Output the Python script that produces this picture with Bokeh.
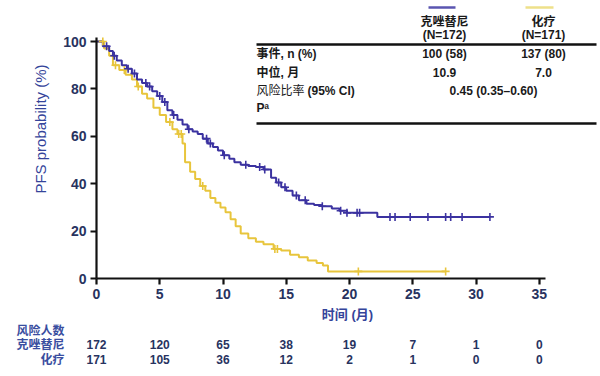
from bokeh.plotting import figure
from bokeh.layouts import column, row
from bokeh.models import Range1d, FixedTicker
from bokeh.core.properties import value
from bokeh.embed import file_html
from bokeh.resources import INLINE
import numpy as np

# ---------------- data ----------------
# Crizotinib (克唑替尼) KM step curve
criz_t = [0, 0.5, 1.0, 1.3, 1.6, 2.0, 2.4, 2.8, 3.2, 3.6, 4.0, 4.4, 4.8, 5.2, 5.6, 6.0,
          6.4, 6.8, 7.2, 7.6, 8.0, 8.4, 8.8, 9.2, 9.6, 10.0, 10.5, 10.9, 11.4, 12.0, 12.6,
          13.2, 13.8, 14.2, 14.6, 15.0, 15.5, 16.0, 16.6, 17.2, 17.8, 18.6, 19.2, 19.8,
          22.2, 31.1]
criz_s = [100, 98, 96, 94, 92, 90, 88.5, 86.5, 84, 82.5, 81, 79, 77, 74.5, 71, 69,
          67, 65, 63, 62, 61, 59, 57, 55.5, 54, 52, 50.5, 49, 48, 47.5, 47,
          46, 42.5, 40.5, 38.5, 37, 35, 33, 31.5, 31, 30.5, 29.5, 28.6, 27.7,
          26, 26]
criz_cens = [0.8, 1.4, 2.5, 3.0, 3.9, 4.2, 5.0, 5.4, 6.1, 7.3, 8.7, 9.0, 10.1, 11.8, 12.9,
             13.3, 14.4, 14.9, 15.8, 16.5, 17.85, 19.3, 19.8, 20.6, 20.8, 23.2, 23.6,
             24.8, 26.2, 27.6, 28.0, 28.9, 31.1]

# Chemotherapy (化疗) KM step curve
chemo_t = [0, 0.6, 1.0, 1.3, 1.8, 2.3, 2.8, 3.2, 3.6, 4.0, 4.5, 5.0, 5.5, 6.0, 6.4, 6.8,
           7.0, 7.4, 7.8, 8.2, 8.6, 9.0, 9.4, 9.8, 10.2, 10.6, 11.0, 11.4, 12.0, 12.6,
           13.2, 14.0, 14.6, 15.3, 16.0, 16.7, 17.4, 17.9, 18.3, 27.6]
chemo_s = [100, 97, 94, 90, 88, 86, 84, 81, 78, 76, 72, 69, 66, 63, 61, 57,
           49, 45, 42, 39, 37, 34, 32, 30, 28, 25, 22, 19, 17, 15.5,
           14.5, 12.5, 11.8, 10, 9, 7.6, 6.5, 5.5, 3, 3]
chemo_cens = [0.5, 1.5, 2.2, 3.3, 5.8, 6.5, 6.7, 8.4, 14.1, 14.3, 20.7, 27.6]

x_ticks = [0, 5, 10, 15, 20, 25, 30, 35]
y_ticks = [0, 20, 40, 60, 80, 100]
risk_criz = [172, 120, 65, 38, 19, 7, 1, 0]
risk_chemo = [171, 105, 36, 12, 2, 1, 0, 0]

arm_names = ["克唑替尼", "化疗"]
arm_n = ["(N=172)", "(N=171)"]
events = ["100 (58)", "137 (80)"]
medians = ["10.9", "7.0"]
hr_text = "0.45 (0.35–0.60)"
bold_row_labels = ["事件, n (%)", "中位, 月", "(95% CI)", "Pᵃ"]
hr_label = "风险比率"
y_title = "PFS probability (%)"
x_title = "时间 (月)"

BLUE = "#3b32a0"
YELLOW = "#e8c53c"
NAVY = "#28335f"
LBLUE = "#34449a"
FONT = "Liberation Sans, Noto Sans CJK SC"

# ---------------- geometry ----------------
W = 598
YL = 50                           # width of the y-title strip
FL, FW, FH = 96, 502, 278         # frame left (page) / width / height (px)
SX, SY = 12.65, 2.37              # px per month, px per %
X1 = FW / SX
Y1 = FH / SY

p = figure(frame_width=FW, frame_height=FH, output_backend="svg", toolbar_location=None,
           x_range=Range1d(0, X1), y_range=Range1d(0, Y1),
           min_border_left=FL - YL, min_border_top=0, min_border_right=0,
           min_border_bottom=40)
p.outline_line_color = None
p.grid.visible = False


def px2x(px):
    return (px - FL) / SX


def py2y(py):
    return (FH - py) / SY


for ax in (p.xaxis[0], p.yaxis[0]):
    ax.axis_line_width = 2.2
    ax.axis_line_color = "#111111"
    ax.major_tick_line_width = 2.2
    ax.major_tick_line_color = "#111111"
    ax.major_tick_out = 6
    ax.major_tick_in = 0
    ax.minor_tick_line_color = None
    ax.major_label_text_font = FONT
    ax.major_label_text_font_style = "bold"
    ax.major_label_text_font_size = "14px"
    ax.major_label_text_color = NAVY

p.xaxis.ticker = FixedTicker(ticks=x_ticks)
p.yaxis.ticker = FixedTicker(ticks=y_ticks)
p.xaxis.bounds = (0, 35.5)
p.yaxis.bounds = (0, 101.7)
p.xaxis.major_label_standoff = 4
p.yaxis.major_label_standoff = 4
p.xaxis.axis_label = x_title
p.xaxis.axis_label_text_font = FONT
p.xaxis.axis_label_text_font_size = "13px"
p.xaxis.axis_label_text_color = LBLUE
p.xaxis.axis_label_text_font_style = "bold"
p.xaxis.axis_label_standoff = 5


def step_at(ts, ss, c):
    idx = np.searchsorted(np.asarray(ts), np.asarray(c), side="right") - 1
    return np.asarray(ss)[idx]


# curves
p.step(chemo_t, chemo_s, mode="after", line_color=YELLOW, line_width=2)
p.step(criz_t, criz_s, mode="after", line_color=BLUE, line_width=2)
p.scatter(chemo_cens, step_at(chemo_t, chemo_s, chemo_cens), marker="cross", size=8,
          line_color=YELLOW, line_width=1.6)
p.scatter(criz_cens, step_at(criz_t, criz_s, criz_cens), marker="cross", size=8,
          line_color=BLUE, line_width=1.6)

# ---------------- table (upper right) ----------------
TXT = dict(text_font=value(FONT), text_font_size="12px",
           text_baseline="middle", text_color="#1a1a1a")
col_px = [444, 543]
p.segment(x0=[px2x(428), px2x(525)], y0=[py2y(7)] * 2, x1=[px2x(455), px2x(553)],
          y1=[py2y(7)] * 2, line_color=["#5a55b0", "#eee08a"], line_width=2.5)
p.text(x=[px2x(c) for c in col_px] * 4,
       y=[py2y(21)] * 2 + [py2y(34)] * 2 + [py2y(53)] * 2 + [py2y(72)] * 2,
       text=arm_names + arm_n + events + medians, text_align="center",
       text_font_style="bold", **TXT)
p.text(x=[px2x(493)], y=[py2y(90)], text=[hr_text], text_align="center",
       text_font_style="bold", **TXT)
p.text(x=[px2x(256), px2x(256), px2x(307), px2x(256)],
       y=[py2y(53), py2y(72), py2y(90), py2y(107)], text=bold_row_labels,
       text_align="left", text_font_style="bold", **TXT)
p.text(x=[px2x(256)], y=[py2y(90)], text=[hr_label], text_align="left",
       text_font_style="normal", **TXT)
p.segment(x0=[px2x(256)] * 2, y0=[py2y(44), py2y(123)], x1=[px2x(596)] * 2,
          y1=[py2y(44), py2y(123)], line_color="#111111", line_width=2.5)

# ---------------- y title strip ----------------
yl = figure(width=YL, height=FH, output_backend="svg", toolbar_location=None,
            x_range=Range1d(0, YL), y_range=Range1d(FH, 0), min_border=0)
yl.axis.visible = False
yl.grid.visible = False
yl.outline_line_color = None
yl.text(x=[40], y=[154], text=[y_title], angle=np.pi / 2, text_align="center",
        text_baseline="middle", text_font=value(FONT), text_font_size="15px",
        text_color=LBLUE)

# ---------------- number at risk (bottom figure) ----------------
RH = 50
r = figure(width=W, height=RH, output_backend="svg", toolbar_location=None,
           x_range=Range1d(-FL / SX, (W - FL) / SX), y_range=Range1d(RH, 0),
           min_border=0)
r.axis.visible = False
r.grid.visible = False
r.outline_line_color = None
RT = dict(text_font=value(FONT), text_font_size="12px", text_font_style="bold",
          text_baseline="middle")
r.text(x=[px2x(64)] * 3, y=[6, 20, 35], text=["风险人数"] + arm_names,
       text_align="right", text_color="#3a4ea0", **RT)
r.text(x=x_ticks, y=[20] * len(x_ticks), text=[str(v) for v in risk_criz],
       text_align="center", text_color=NAVY, **RT)
r.text(x=x_ticks, y=[35] * len(x_ticks), text=[str(v) for v in risk_chemo],
       text_align="center", text_color=NAVY, **RT)

layout = column(row(yl, p, spacing=0), r, spacing=0)
open("out.html", "w").write(file_html(layout, INLINE))
